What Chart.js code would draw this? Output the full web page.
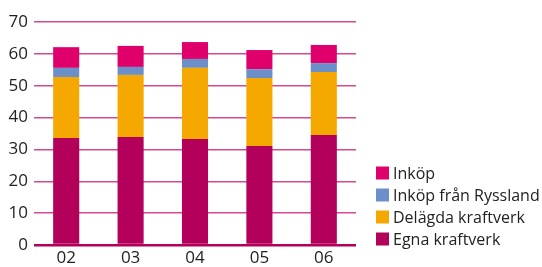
<!DOCTYPE html>
<html><head><meta charset="utf-8">
<script src="https://cdn.jsdelivr.net/npm/chart.js@4/dist/chart.umd.min.js"></script>
<style>html,body{margin:0;padding:0;background:#fff;}#c{display:block;}</style>
</head><body>
<canvas id="c" width="542" height="267"></canvas>
<script>
const categories = ['02', '03', '04', '05', '06'];
const egnaKraftverk = [33.6, 33.9, 33.3, 31.1, 34.5];
const delagdaKraftverk = [19.1, 19.5, 22.3, 21.3, 19.8];
const inkopRyssland = [2.9, 2.5, 2.8, 2.8, 2.8];
const inkop = [6.5, 6.6, 5.3, 6.0, 5.7];
const yTicks = [0, 10, 20, 30, 40, 50, 60, 70];

const FONT = "'Open Sans', 'Noto Sans', sans-serif";
const ds = (label, data, color) => ({label, data, backgroundColor: color, borderWidth: 0,
  barPercentage: 0.81, categoryPercentage: 0.5});

// Legend drawn to the right of the plot, reversed order (top = last dataset)
const sideLegend = {
  id: 'sideLegend',
  afterDraw(chart) {
    const ctx = chart.ctx;
    const area = chart.chartArea;
    const items = chart.data.datasets.map(d => ({label: d.label, color: d.backgroundColor})).reverse();
    const x = area.right + 20;
    const rowH = 22;
    const firstCenter = 173;
    ctx.save();
    ctx.font = "16px " + FONT;
    ctx.textBaseline = 'middle';
    ctx.textAlign = 'left';
    items.forEach((it, i) => {
      const cy = firstCenter + i * rowH;
      ctx.fillStyle = it.color;
      ctx.fillRect(x, cy - 6.5, 13, 13);
      ctx.fillStyle = '#222';
      ctx.fillText(it.label, x + 17, cy + 1);
    });
    ctx.restore();
  }
};

new Chart(document.getElementById('c'), {
  type: 'bar',
  data: {
    labels: categories,
    datasets: [
      ds('Egna kraftverk', egnaKraftverk, '#b3005a'),
      ds('Delägda kraftverk', delagdaKraftverk, '#f5a800'),
      ds('Inköp från Ryssland', inkopRyssland, '#6b8fc9'),
      ds('Inköp', inkop, '#e0006b')
    ]
  },
  plugins: [sideLegend],
  options: {
    responsive: false,
    animation: false,
    layout: {padding: {left: 0, right: 186, top: 22, bottom: 0}},
    plugins: {
      tooltip: {enabled: false},
      legend: {display: false}
    },
    scales: {
      x: {
        stacked: true,
        grid: {display: false, drawTicks: false},
        border: {display: false},
        afterFit: (ax) => { ax.height = 22; },
        ticks: {color: '#222', font: {family: FONT, size: 17}, padding: 3}
      },
      y: {
        stacked: true, min: 0, max: 70,
        afterBuildTicks: (ax) => { ax.ticks = yTicks.map(v => ({value: v})); },
        afterFit: (ax) => { ax.width = 34; },
        grid: {
          color: (c) => c.tick && c.tick.value === 0 ? '#b3005a' : '#d24a90',
          lineWidth: (c) => c.tick && c.tick.value === 0 ? 2.5 : 1.5,
          drawTicks: false
        },
        border: {display: false},
        ticks: {color: '#222', font: {family: FONT, size: 17}, padding: 6}
      }
    }
  }
});
</script>
</body></html>
